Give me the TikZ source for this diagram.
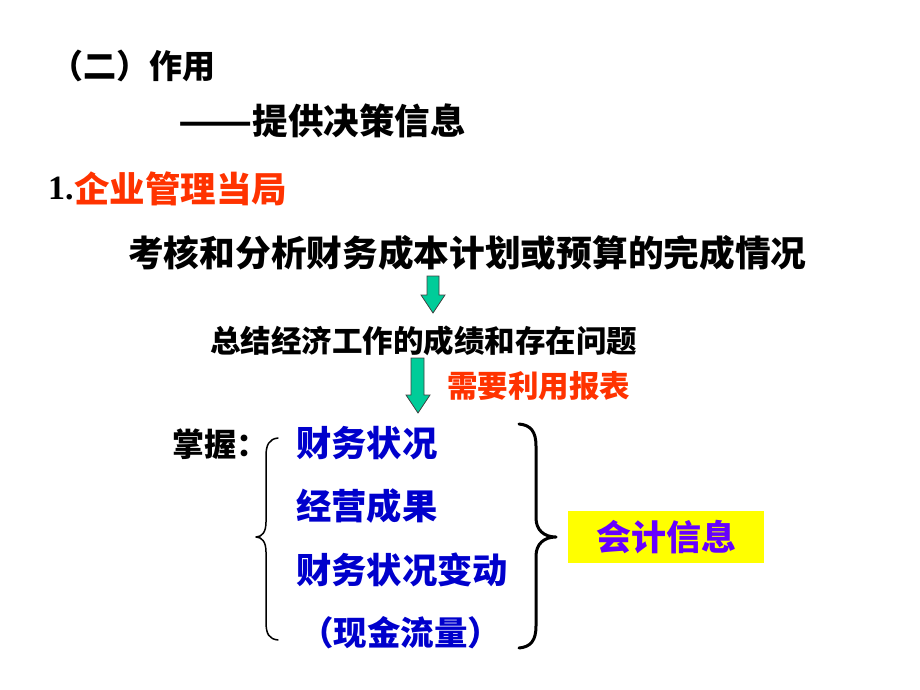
\documentclass[tikz,border=0pt]{standalone}
\usepackage{fontspec}
\usepackage{graphicx}
\setmainfont{Liberation Serif}
\newfontfamily\cjk{Noto Sans CJK SC}
\definecolor{tred}{RGB}{255,51,0}
\definecolor{tblue}{RGB}{0,0,204}
\definecolor{tpurple}{RGB}{102,0,255}
\definecolor{tgreen}{RGB}{0,204,153}
\definecolor{tyellow}{RGB}{255,255,0}
\begin{document}
\begin{tikzpicture}[x=1pt,y=-1pt,
  txt/.style={anchor=west,inner sep=0pt,font=\cjk\bfseries\fontsize{#1}{#1}\selectfont},
  txt/.default=35,
  blockarrow/.style={fill=tgreen,draw=black!75,line width=0.8pt,line join=miter},
  brace/.style={draw=black,line cap=round,line join=round}]
\useasboundingbox (0,0) rectangle (920,690);
\node[txt=33] (t1) at (50,66) {（二）作用};
\node[txt=35.5] (t2) at (178,121) {\scalebox{1.22}[1]{——}提供决策信息};
\node[anchor=west,inner sep=0pt,font=\bfseries\fontsize{34}{34}\selectfont] (n1) at (48,189) {1.};
\node[txt=35.5,text=tred,anchor=west] (t3) at (n1.east) {企业管理当局};
\node[txt=35.7] (t4) at (128,253) {考核和分析财务成本计划或预算的完成情况};
\node[txt=30.5] (t5) at (210,341) {总结经济工作的成绩和存在问题};
\node[txt=30.5,text=tred] (t6) at (447,386) {需要利用报表};
\node[txt=32] (t7) at (172,444) {掌握：};
\node[txt=35.3,text=tblue] (b1) at (296,443) {财务状况};
\node[txt=35.3,text=tblue] (b2) at (296,506) {经营成果};
\node[txt=35.3,text=tblue] (b3) at (296,570) {财务状况变动};
\node[txt=33.5,text=tblue] (b4) at (300,633) {（现金流量）};
\node[fill=tyellow,minimum width=196pt,minimum height=52pt,inner sep=0pt,
      font=\cjk\bfseries\fontsize{35}{35}\selectfont,text=tpurple] (info) at (666,537) {会计信息};
% block arrows
\draw[blockarrow] (427,276) -- (439,276) -- (439,295) -- (445,295) -- (433,313)
  -- (421,295) -- (427,295) -- cycle;
\draw[blockarrow] (411,358) -- (424,358) -- (424,395) -- (430,395) -- (418,413)
  -- (406,395) -- (411,395) -- cycle;
% left brace
\draw[brace,line width=1.5pt] (278,438) .. controls (269,439) and (266,445) .. (266,456)
  -- (266,522) .. controls (266,532) and (262,537) .. (256,537)
  .. controls (262,537) and (266,542) .. (266,552)
  -- (266,622) .. controls (266,634) and (269,639) .. (278,640);
% right brace
\draw[brace,line width=3pt] (519,424) .. controls (531,425) and (536,432) .. (536,446)
  -- (536,518) .. controls (536,530) and (544,537) .. (556,537)
  .. controls (544,537) and (536,544) .. (536,556)
  -- (536,626) .. controls (536,640) and (531,647) .. (519,648);
\end{tikzpicture}
\end{document}
